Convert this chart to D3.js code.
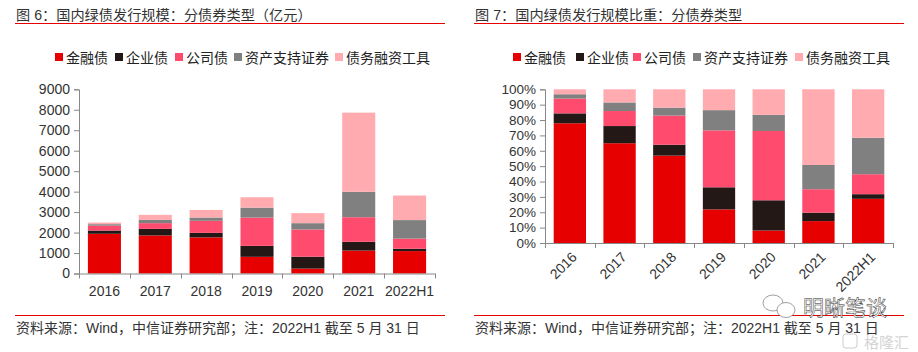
<!DOCTYPE html>
<html>
<head>
<meta charset="utf-8">
<script src="https://cdn.jsdelivr.net/npm/d3@7"></script>
<style>
  body { margin: 0; background: #fff; }
  text { font-family: "Liberation Sans", Arial, "Noto Sans CJK SC", sans-serif; }
</style>
</head>
<body>
<div id="chart"></div>
<script>
// categories and series (亿元)
var years = ["2016", "2017", "2018", "2019", "2020", "2021", "2022H1"];
var seriesNames = ["金融债", "企业债", "公司债", "资产支持证券", "债务融资工具"];
var finBond = [1940, 1860, 1765, 815, 240, 1120, 1095];
var entBond = [160, 320, 220, 535, 580, 430, 115];
var corpBond = [240, 280, 590, 1380, 1330, 1200, 495];
var absBond = [70, 160, 160, 490, 310, 1240, 905];
var dfiBond = [80, 245, 370, 505, 490, 3870, 1200];
var leftTicks = [0, 1000, 2000, 3000, 4000, 5000, 6000, 7000, 8000, 9000];
var rightTicks = [0, 0.1, 0.2, 0.3, 0.4, 0.5, 0.6, 0.7, 0.8, 0.9, 1];

var colors = ["#e60000", "#231816", "#ff4b6e", "#808080", "#ffabb0"];
var cjk = "'Liberation Sans', Arial, 'Noto Sans CJK SC', sans-serif";

var W = 918, H = 352;
var svg = d3.select("#chart").append("svg")
  .attr("width", W).attr("height", H);

// build rows for stacking
var rows = years.map(function(y, i) {
  return {year: y, s0: finBond[i], s1: entBond[i], s2: corpBond[i], s3: absBond[i], s4: dfiBond[i]};
});
var keys = ["s0", "s1", "s2", "s3", "s4"];

function panel(opt) {
  var g = svg.append("g");

  // title + red rule
  g.append("text")
    .attr("x", opt.x0 + 1).attr("y", 20)
    .style("font-size", "14.2px").style("fill", "#333")
    .style("font-family", cjk)
    .text(opt.title);
  g.append("line")
    .attr("x1", opt.x0).attr("x2", opt.x0 + 430)
    .attr("y1", 23.5).attr("y2", 23.5)
    .attr("stroke", "#e60000").attr("stroke-width", 1.2);

  // legend
  var lx = opt.legendX;
  seriesNames.forEach(function(n, i) {
    g.append("rect")
      .attr("x", lx[i]).attr("y", 53).attr("width", 8).attr("height", 8)
      .attr("fill", colors[i]);
    g.append("text")
      .attr("x", lx[i] + 11).attr("y", 62.5)
      .style("font-size", "14px").style("fill", "#222")
      .style("font-family", cjk)
      .text(n);
  });

  var x = d3.scaleBand().domain(years)
    .range([opt.left, opt.right]).paddingInner(0.35).paddingOuter(0.175);
  var y = d3.scaleLinear().domain(opt.domain).range([opt.bottom, opt.top]);

  var stack = d3.stack().keys(keys);
  if (opt.expand) stack.offset(d3.stackOffsetExpand);
  var layers = stack(rows);

  g.selectAll(".layer").data(layers).enter().append("g")
    .attr("fill", function(d, i) { return colors[i]; })
    .selectAll("rect").data(function(d) { return d; }).enter().append("rect")
      .attr("x", function(d) { return x(d.data.year); })
      .attr("width", x.bandwidth())
      .attr("y", function(d) { return y(d[1]); })
      .attr("height", function(d) { return y(d[0]) - y(d[1]); });

  // y axis
  var ya = g.append("g")
    .attr("transform", "translate(" + opt.left + ",0)")
    .call(d3.axisLeft(y).tickValues(opt.ticks).tickSize(5).tickFormat(opt.fmt));
  ya.select(".domain").attr("stroke", "#888");
  ya.selectAll(".tick line").attr("stroke", "#888");
  ya.selectAll("text").style("font-size", opt.yFont).style("fill", "#333")
    .attr("x", -9);

  // x axis: line with ticks at band boundaries
  g.append("line")
    .attr("x1", opt.left).attr("x2", opt.right)
    .attr("y1", opt.bottom + 0.5).attr("y2", opt.bottom + 0.5)
    .attr("stroke", "#888");
  var step = x.step();
  d3.range(years.length + 1).forEach(function(i) {
    var tx = Math.round(opt.left + i * step) + 0.5;
    g.append("line")
      .attr("x1", tx).attr("x2", tx)
      .attr("y1", opt.bottom).attr("y2", opt.bottom + 5)
      .attr("stroke", "#888");
  });

  years.forEach(function(yr) {
    var cx = x(yr) + x.bandwidth() / 2;
    if (opt.rotate) {
      g.append("text")
        .attr("transform", "translate(" + (cx + 8) + "," + (opt.bottom + 15) + ") rotate(-45)")
        .attr("text-anchor", "end")
        .style("font-size", "14px").style("fill", "#333")
        .text(yr);
    } else {
      g.append("text")
        .attr("x", cx).attr("y", opt.bottom + 22)
        .attr("text-anchor", "middle")
        .style("font-size", "14px").style("fill", "#333")
        .text(yr);
    }
  });

  // source rule + note
  g.append("line")
    .attr("x1", opt.x0).attr("x2", opt.x0 + 430)
    .attr("y1", 315.5).attr("y2", 315.5)
    .attr("stroke", "#e60000").attr("stroke-width", 1.2);
  g.append("text")
    .attr("x", opt.x0 + 1).attr("y", 333)
    .style("font-size", "14px").style("fill", "#333")
    .style("font-family", cjk)
    .text("资料来源：Wind，中信证券研究部；注：2022H1 截至 5 月 31 日");
}

panel({
  x0: 15, title: "图 6：国内绿债发行规模：分债券类型（亿元）",
  legendX: [55, 115, 175, 234, 335],
  left: 79, right: 435, top: 89.3, bottom: 273.5,
  domain: [0, 9000], ticks: leftTicks, fmt: d3.format("d"), yFont: "14px",
  expand: false, rotate: false
});

panel({
  x0: 474, title: "图 7：国内绿债发行规模比重：分债券类型",
  legendX: [513, 576, 633, 693, 795],
  left: 545, right: 893, top: 89.3, bottom: 243,
  domain: [0, 1], ticks: rightTicks, fmt: d3.format(".0%"), yFont: "13.5px",
  expand: true, rotate: true
});

// watermark
var wm = svg.append("g");
wm.append("ellipse").attr("cx", 773).attr("cy", 303).attr("rx", 10).attr("ry", 8)
  .attr("fill", "none").attr("stroke", "#777").attr("stroke-width", 0.7);
wm.append("ellipse").attr("cx", 786).attr("cy", 310).attr("rx", 9).attr("ry", 7.5)
  .attr("fill", "#fff").attr("stroke", "#777").attr("stroke-width", 0.7);
wm.append("text").attr("x", 803).attr("y", 315)
  .style("font-size", "21px").style("font-family", cjk)
  .attr("fill", "#fff").attr("stroke", "#333").attr("stroke-width", 0.5)
  .text("明晰笔谈");
wm.append("rect").attr("x", 843).attr("y", 334).attr("width", 14).attr("height", 14)
  .attr("rx", 3).attr("fill", "none").attr("stroke", "#ccc").attr("stroke-width", 1);
wm.append("text").attr("x", 864).attr("y", 348)
  .style("font-size", "15px").style("font-family", cjk)
  .attr("fill", "#d4d4d4")
  .text("格隆汇");
</script>
</body>
</html>
